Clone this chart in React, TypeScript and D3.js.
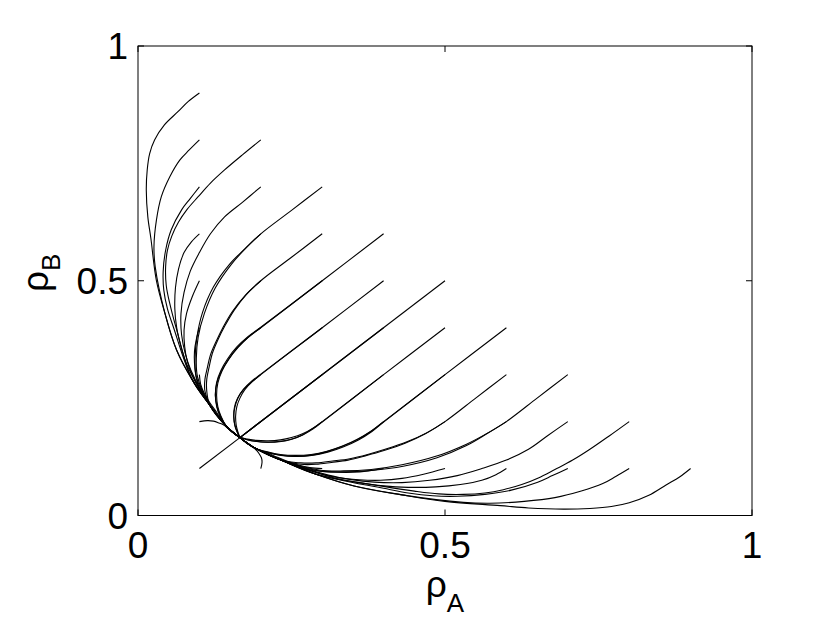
import * as React from "react"
import * as d3 from "d3"

type Pt = [number, number]
type Trajectory = { head: Pt[]; join: number }

const xTicks = [0, 0.5, 1]
const yTicks = [0, 0.5, 1]

// point where every trajectory ends
const fixedPoint: Pt = [0.166, 0.166]

// the curve the trajectories pile up on, above and below the diagonal
const upperEnvelope: Pt[] = [
  [0.022, 0.58], [0.03, 0.5], [0.044, 0.43], [0.063, 0.352],
  [0.088, 0.29], [0.117, 0.235], [0.144, 0.19], [0.166, 0.166],
]
const lowerEnvelope: Pt[] = [
  [0.58, 0.022], [0.5, 0.03], [0.43, 0.044], [0.352, 0.063],
  [0.29, 0.088], [0.235, 0.117], [0.19, 0.144], [0.166, 0.166],
]

// starts on the diagonal run straight into the fixed point
const diagonalStarts = [0.1, 0.2, 0.3, 0.4, 0.5]

const upperFan: Trajectory[] = [
  { head: [[0.1, 0.9], [0.082, 0.882], [0.065, 0.86], [0.043, 0.832], [0.027, 0.8], [0.019, 0.771], [0.015, 0.736], [0.0135, 0.693], [0.016, 0.636], [0.021, 0.59]], join: 1 },
  { head: [[0.1, 0.8], [0.083, 0.778], [0.068, 0.757], [0.052, 0.722], [0.038, 0.679], [0.03, 0.629], [0.026, 0.573], [0.028, 0.53]], join: 2 },
  { head: [[0.2, 0.8], [0.17, 0.768], [0.141, 0.736], [0.118, 0.708], [0.098, 0.679], [0.08, 0.652], [0.066, 0.625], [0.055, 0.595], [0.048, 0.565], [0.045, 0.53], [0.046, 0.49], [0.052, 0.45], [0.062, 0.4]], join: 4 },
  { head: [[0.1, 0.7], [0.085, 0.675], [0.071, 0.651], [0.054, 0.608], [0.045, 0.565], [0.041, 0.52], [0.042, 0.48], [0.048, 0.44], [0.058, 0.4]], join: 4 },
  { head: [[0.2, 0.7], [0.17, 0.667], [0.141, 0.636], [0.118, 0.6], [0.1, 0.56], [0.085, 0.52], [0.075, 0.475], [0.07, 0.43], [0.071, 0.385], [0.077, 0.345], [0.086, 0.31]], join: 5 },
  { head: [[0.1, 0.6], [0.087, 0.583], [0.075, 0.56], [0.066, 0.525], [0.061, 0.485], [0.06, 0.44], [0.063, 0.4], [0.07, 0.36], [0.08, 0.32]], join: 5 },
  { head: [[0.3, 0.7], [0.25, 0.65], [0.2, 0.6], [0.176, 0.57], [0.152, 0.535], [0.126, 0.485], [0.108, 0.43], [0.098, 0.38], [0.095, 0.335], [0.097, 0.295]], join: 5 },
  { head: [[0.2, 0.6], [0.174, 0.568], [0.149, 0.535], [0.123, 0.487], [0.105, 0.432], [0.096, 0.38], [0.093, 0.335], [0.095, 0.295]], join: 5 },
  { head: [[0.1, 0.5], [0.088, 0.465], [0.079, 0.43], [0.075, 0.395], [0.076, 0.36], [0.08, 0.33], [0.088, 0.3]], join: 5 },
  { head: [[0.3, 0.6], [0.25, 0.55], [0.2, 0.5], [0.176, 0.47], [0.157, 0.438], [0.142, 0.405], [0.13, 0.374], [0.121, 0.345], [0.116, 0.317], [0.112, 0.29], [0.112, 0.265]], join: 5 },
  { head: [[0.2, 0.5], [0.174, 0.468], [0.154, 0.435], [0.139, 0.402], [0.127, 0.37], [0.118, 0.342], [0.113, 0.315], [0.109, 0.29], [0.109, 0.265]], join: 5 },
  { head: [[0.1, 0.4], [0.095, 0.375], [0.092, 0.35], [0.092, 0.325], [0.094, 0.3], [0.1, 0.27]], join: 5 },
  { head: [[0.4, 0.6], [0.3, 0.5], [0.2, 0.4], [0.18, 0.38], [0.163, 0.358], [0.148, 0.333], [0.137, 0.308], [0.13, 0.282], [0.128, 0.256], [0.13, 0.232], [0.135, 0.212]], join: 6 },
  { head: [[0.3, 0.5], [0.2, 0.401], [0.179, 0.381], [0.161, 0.359], [0.146, 0.334], [0.135, 0.309], [0.128, 0.283], [0.126, 0.257], [0.128, 0.233], [0.133, 0.213]], join: 6 },
  { head: [[0.2, 0.4], [0.178, 0.378], [0.16, 0.355], [0.146, 0.33], [0.135, 0.305], [0.128, 0.28], [0.126, 0.255], [0.129, 0.23], [0.134, 0.213]], join: 6 },
  { head: [[0.1, 0.3], [0.102, 0.28], [0.108, 0.26], [0.117, 0.24], [0.128, 0.22]], join: 6 },
  { head: [[0.4, 0.5], [0.3, 0.4], [0.2, 0.3], [0.186, 0.285], [0.174, 0.268], [0.166, 0.25], [0.161, 0.232], [0.159, 0.212], [0.16, 0.192], [0.163, 0.177]], join: 7 },
  { head: [[0.3, 0.4], [0.2, 0.301], [0.185, 0.286], [0.172, 0.269], [0.163, 0.251], [0.158, 0.232], [0.156, 0.212], [0.158, 0.192], [0.162, 0.177]], join: 7 },
  { head: [[0.2, 0.3], [0.185, 0.284], [0.171, 0.267], [0.162, 0.249], [0.157, 0.23], [0.156, 0.21], [0.158, 0.19], [0.162, 0.176]], join: 7 },
  { head: [[0.1, 0.2], [0.113, 0.202], [0.123, 0.201], [0.132, 0.197], [0.139, 0.193], [0.147, 0.185], [0.155, 0.176]], join: 7 },
]

// starts with rhoA > rhoB
const lowerFan: Trajectory[] = [
  { head: [[0.9, 0.1], [0.882, 0.082], [0.86, 0.065], [0.832, 0.043], [0.8, 0.027], [0.771, 0.019], [0.736, 0.015], [0.693, 0.0135], [0.636, 0.016], [0.59, 0.021]], join: 1 },
  { head: [[0.8, 0.1], [0.778, 0.083], [0.757, 0.068], [0.722, 0.052], [0.679, 0.038], [0.629, 0.03], [0.573, 0.026], [0.53, 0.028]], join: 2 },
  { head: [[0.8, 0.2], [0.768, 0.17], [0.736, 0.141], [0.708, 0.118], [0.679, 0.098], [0.652, 0.08], [0.625, 0.066], [0.595, 0.055], [0.565, 0.048], [0.53, 0.045], [0.49, 0.046], [0.45, 0.052], [0.4, 0.062]], join: 4 },
  { head: [[0.7, 0.1], [0.675, 0.085], [0.651, 0.071], [0.608, 0.054], [0.565, 0.045], [0.52, 0.041], [0.48, 0.042], [0.44, 0.048], [0.4, 0.058]], join: 4 },
  { head: [[0.7, 0.2], [0.667, 0.17], [0.636, 0.141], [0.6, 0.118], [0.56, 0.1], [0.52, 0.085], [0.475, 0.075], [0.43, 0.07], [0.385, 0.071], [0.345, 0.077], [0.31, 0.086]], join: 5 },
  { head: [[0.6, 0.1], [0.583, 0.087], [0.56, 0.075], [0.525, 0.066], [0.485, 0.061], [0.44, 0.06], [0.4, 0.063], [0.36, 0.07], [0.32, 0.08]], join: 5 },
  { head: [[0.7, 0.3], [0.65, 0.25], [0.6, 0.2], [0.57, 0.176], [0.535, 0.152], [0.485, 0.126], [0.43, 0.108], [0.38, 0.098], [0.335, 0.095], [0.295, 0.097]], join: 5 },
  { head: [[0.6, 0.2], [0.568, 0.174], [0.535, 0.149], [0.487, 0.123], [0.432, 0.105], [0.38, 0.096], [0.335, 0.093], [0.295, 0.095]], join: 5 },
  { head: [[0.5, 0.1], [0.465, 0.088], [0.43, 0.079], [0.395, 0.075], [0.36, 0.076], [0.33, 0.08], [0.3, 0.088]], join: 5 },
  { head: [[0.6, 0.3], [0.55, 0.25], [0.5, 0.2], [0.47, 0.176], [0.438, 0.157], [0.405, 0.142], [0.374, 0.13], [0.345, 0.121], [0.317, 0.116], [0.29, 0.112], [0.265, 0.112]], join: 5 },
  { head: [[0.5, 0.2], [0.468, 0.174], [0.435, 0.154], [0.402, 0.139], [0.37, 0.127], [0.342, 0.118], [0.315, 0.113], [0.29, 0.109], [0.265, 0.109]], join: 5 },
  { head: [[0.4, 0.1], [0.375, 0.095], [0.35, 0.092], [0.325, 0.092], [0.3, 0.094], [0.27, 0.1]], join: 5 },
  { head: [[0.6, 0.4], [0.5, 0.3], [0.4, 0.2], [0.38, 0.18], [0.358, 0.163], [0.333, 0.148], [0.308, 0.137], [0.282, 0.13], [0.256, 0.128], [0.232, 0.13], [0.212, 0.135]], join: 6 },
  { head: [[0.5, 0.3], [0.401, 0.2], [0.381, 0.179], [0.359, 0.161], [0.334, 0.146], [0.309, 0.135], [0.283, 0.128], [0.257, 0.126], [0.233, 0.128], [0.213, 0.133]], join: 6 },
  { head: [[0.4, 0.2], [0.378, 0.178], [0.355, 0.16], [0.33, 0.146], [0.305, 0.135], [0.28, 0.128], [0.255, 0.126], [0.23, 0.129], [0.213, 0.134]], join: 6 },
  { head: [[0.3, 0.1], [0.28, 0.102], [0.26, 0.108], [0.24, 0.117], [0.22, 0.128]], join: 6 },
  { head: [[0.5, 0.4], [0.4, 0.3], [0.3, 0.2], [0.285, 0.186], [0.268, 0.174], [0.25, 0.166], [0.232, 0.161], [0.212, 0.159], [0.192, 0.16], [0.177, 0.163]], join: 7 },
  { head: [[0.4, 0.3], [0.301, 0.2], [0.286, 0.185], [0.269, 0.172], [0.251, 0.163], [0.232, 0.158], [0.212, 0.156], [0.192, 0.158], [0.177, 0.162]], join: 7 },
  { head: [[0.3, 0.2], [0.284, 0.185], [0.267, 0.171], [0.249, 0.162], [0.23, 0.157], [0.21, 0.156], [0.19, 0.158], [0.176, 0.162]], join: 7 },
  { head: [[0.2, 0.1], [0.202, 0.113], [0.201, 0.123], [0.197, 0.132], [0.193, 0.139], [0.185, 0.147], [0.176, 0.155]], join: 7 },
]

const width = 830
const height = 623
const margin = { top: 46, right: 78, bottom: 107.5, left: 138 }
const font = "'Liberation Sans', Arial, Helvetica, sans-serif"

export default function App() {
  const x = d3.scaleLinear().domain([0, 1]).range([margin.left, width - margin.right])
  const y = d3.scaleLinear().domain([0, 1]).range([height - margin.bottom, margin.top])

  const line = d3
    .line<Pt>()
    .x((d) => x(d[0]))
    .y((d) => y(d[1]))
    .curve(d3.curveCatmullRom.alpha(0.5))

  const paths: Pt[][] = [
    ...upperFan.map((t) => [...t.head, ...upperEnvelope.slice(t.join)]),
    ...lowerFan.map((t) => [...t.head, ...lowerEnvelope.slice(t.join)]),
    ...diagonalStarts.map((s) => [[s, s], fixedPoint] as Pt[]),
  ]

  const x0 = x(0), x1 = x(1), y0 = y(0), y1 = y(1)
  const tick = 6

  return (
    <svg
      width={width}
      height={height}
      style={{ position: "absolute", left: 0, top: 0, background: "#fff" }}
      fontFamily={font}
    >
      <rect x={0} y={0} width={width} height={height} fill="#fff" />

      <g fill="none" stroke="#000" strokeWidth={1.1}>
        {paths.map((p, i) => (
          <path key={i} d={line(p) || ""} />
        ))}
      </g>

      {/* box and inward ticks */}
      <rect x={x0} y={y1} width={x1 - x0} height={y0 - y1} fill="none" stroke="#000" strokeWidth={1} />
      <g stroke="#000" strokeWidth={1}>
        {xTicks.map((t) => (
          <g key={"x" + t}>
            <line x1={x(t)} x2={x(t)} y1={y0} y2={y0 - tick} />
            <line x1={x(t)} x2={x(t)} y1={y1} y2={y1 + tick} />
          </g>
        ))}
        {yTicks.map((t) => (
          <g key={"y" + t}>
            <line x1={x0} x2={x0 + tick} y1={y(t)} y2={y(t)} />
            <line x1={x1} x2={x1 - tick} y1={y(t)} y2={y(t)} />
          </g>
        ))}
      </g>

      <g fontSize={37} fill="#000">
        {xTicks.map((t) => (
          <text key={"xl" + t} x={x(t)} y={y0 + 42} textAnchor="middle">
            {String(t)}
          </text>
        ))}
        {yTicks.map((t) => (
          <text key={"yl" + t} x={x0 - 10} y={y(t) + 13} textAnchor="end">
            {String(t)}
          </text>
        ))}
      </g>

      <text x={x(0.5)} y={597} textAnchor="middle" fontSize={37}>
        ρ<tspan dy={15} fontSize={26}>A</tspan>
      </text>
      <text transform={`translate(48,${y(0.5) - 8}) rotate(-90)`} textAnchor="middle" fontSize={37}>
        ρ<tspan dy={12} fontSize={26}>B</tspan>
      </text>
    </svg>
  )
}
